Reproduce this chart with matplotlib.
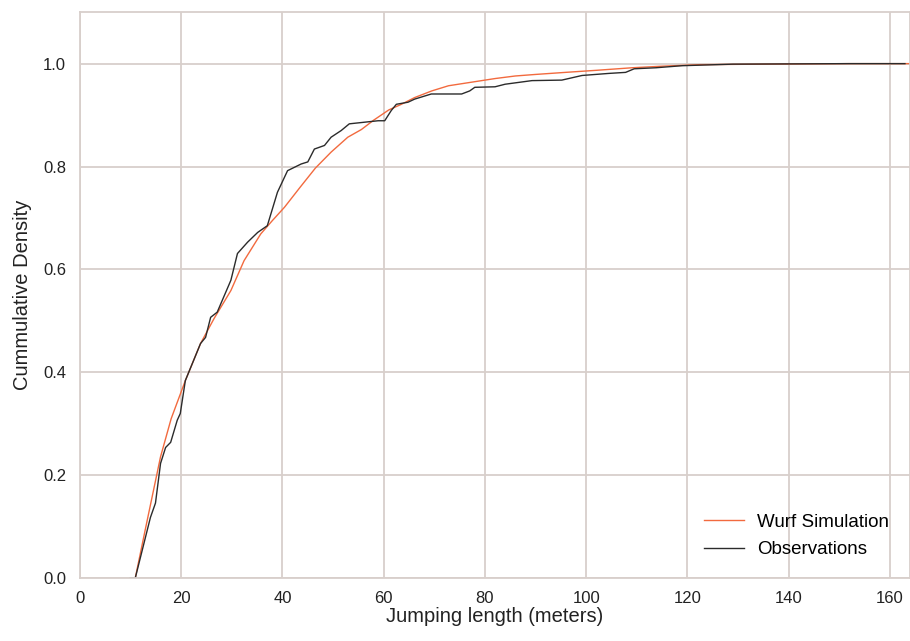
import matplotlib
matplotlib.use("Agg")
import matplotlib.pyplot as plt

obs_x = [9.9, 10.9, 13.9, 14.9, 15.9, 16.9, 17.9, 19.2, 19.8, 20.8, 23.8, 24.8, 25.8, 27.1,
         28.1, 29.8, 31.1, 33.1, 35.1, 37.0, 39.0, 41.0, 43.7, 45.0, 46.3, 48.3, 49.6, 51.6, 53.2,
         58.9, 60.2, 61.5, 62.5, 64.8, 66.1, 69.4, 75.4, 77.0, 78.0, 82.0, 84.0, 89.3, 95.2,
         99.2, 104.5, 107.8, 109.5, 113.8, 119.0, 129.0, 152.0, 163.0]
obs_y = [0.0, 0.0, 0.118, 0.146, 0.223, 0.254, 0.264, 0.307, 0.320, 0.384, 0.456, 0.468,
         0.507, 0.517, 0.540, 0.579, 0.631, 0.653, 0.672, 0.685, 0.750, 0.792, 0.805, 0.809, 0.834,
         0.841, 0.857, 0.870, 0.883, 0.889, 0.889, 0.909, 0.921, 0.925, 0.931, 0.941, 0.941,
         0.947, 0.954, 0.955, 0.960, 0.967, 0.968, 0.977, 0.981, 0.983, 0.990, 0.992, 0.996,
         0.999, 1.0, 1.0]

# Wurf simulation CDF
sim_x = [10.9, 13.0, 15.9, 18.0, 20.8, 23.8, 26.5, 29.8, 32.4, 35.7, 38.0, 40.4, 43.5, 46.5,
         49.6, 52.9, 55.6, 58.0, 61.0, 63.5, 66.1, 69.5, 72.8, 77.4, 82.0, 86.0, 90.0, 95.9,
         102.0, 109.1, 115.0, 122.4, 135.0, 152.0, 164.0]
sim_y = [0.0, 0.100, 0.236, 0.310, 0.384, 0.456, 0.505, 0.559, 0.617, 0.669, 0.695, 0.721,
         0.760, 0.797, 0.828, 0.857, 0.872, 0.890, 0.910, 0.921, 0.934, 0.947, 0.957, 0.964,
         0.971, 0.976, 0.979, 0.983, 0.987, 0.992, 0.995, 0.998, 0.999, 1.0, 1.0]

x_ticks = [0, 20, 40, 60, 80, 100, 120, 140, 160]
y_ticks = [0.0, 0.2, 0.4, 0.6, 0.8, 1.0]

plt.rcParams['font.family'] = ['Liberation Sans', 'DejaVu Sans']

fig = plt.figure(figsize=(9.1, 6.41), dpi=100)
ax = fig.add_axes([0.088, 0.098, 0.912, 0.883])

grid_c = '#d8cfcb'
ax.plot(sim_x, sim_y, color='#f26a3e', lw=1.0, label='Wurf Simulation')
ax.plot(obs_x, obs_y, color='#2b2b2b', lw=1.0, label='Observations')

ax.set_xlim(0, 164)
ax.set_ylim(0, 1.1)
ax.set_xticks(x_ticks)
ax.set_yticks(y_ticks)
ax.set_yticklabels([f'{v:.1f}' for v in y_ticks])
ax.grid(True, color=grid_c, lw=1.3)
ax.set_axisbelow(True)
for s in ax.spines.values():
    s.set_color(grid_c)
    s.set_linewidth(1.3)
ax.tick_params(axis='x', length=0, labelsize=12, labelcolor='#222222', pad=9)
ax.tick_params(axis='y', length=0, labelsize=12, labelcolor='#222222', pad=10)

ax.set_xlabel('Jumping length (meters)', fontsize=14.5, color='#222222', labelpad=1)
ax.set_ylabel('Cummulative Density', fontsize=14.5, color='#222222', labelpad=8)

ax.legend(loc='lower right', frameon=False, fontsize=13.5, handlelength=2.1,
          handletextpad=0.7, bbox_to_anchor=(0.995, 0.005), labelspacing=0.55)

fig.savefig('out.png', dpi=100)
